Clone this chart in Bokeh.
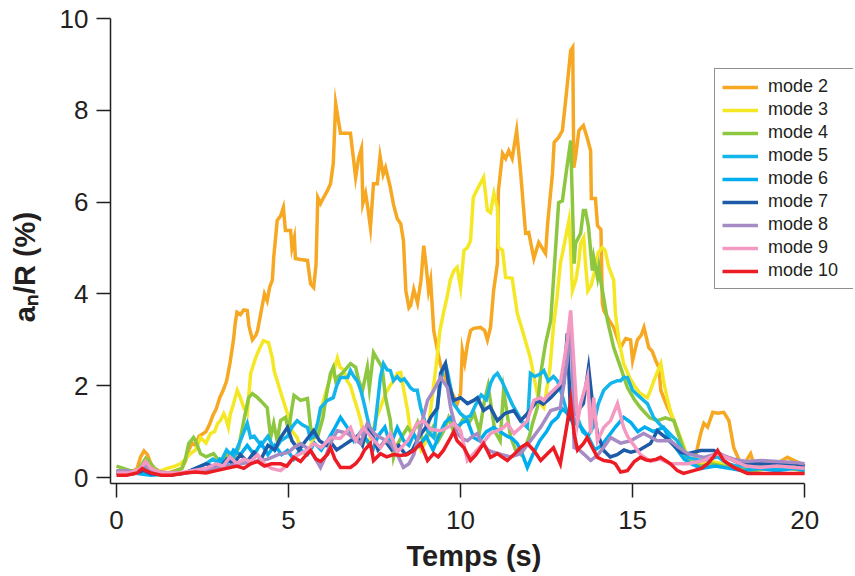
from bokeh.plotting import figure
from bokeh.models import Legend, LegendItem, Range1d, FixedTicker
from bokeh.embed import file_html
from bokeh.resources import INLINE

# ---------------- data ----------------
t_m2 = [0.0, 0.2, 0.4, 0.6, 0.7, 0.8, 0.9, 1.0, 1.1, 1.3, 1.5, 1.7, 1.9, 2.0, 2.1, 2.2, 2.3, 2.4, 2.5, 2.6,
        2.7, 2.8, 2.9, 3.0, 3.1, 3.2, 3.3, 3.4, 3.45, 3.5, 3.6, 3.7, 3.8, 3.85, 3.95, 4.05, 4.1, 4.2, 4.3, 4.38,
        4.45, 4.53, 4.57, 4.67, 4.77, 4.85, 4.91, 5.06, 5.1, 5.17, 5.2, 5.35, 5.55, 5.64, 5.73, 5.8, 5.85, 5.93, 6.02, 6.13,
        6.22, 6.3, 6.37, 6.45, 6.51, 6.8, 6.95, 7.04, 7.12, 7.16, 7.24, 7.3, 7.38, 7.47, 7.58, 7.66, 7.75, 7.82, 7.95, 8.05,
        8.16, 8.26, 8.34, 8.41, 8.5, 8.55, 8.64, 8.75, 8.85, 8.93, 9.0, 9.07, 9.13, 9.22, 9.32, 9.42, 9.47, 9.6, 9.75, 9.9,
        10.0, 10.05, 10.12, 10.2, 10.29, 10.38, 10.58, 10.7, 10.78, 10.87, 10.96, 11.07, 11.1, 11.22, 11.31, 11.4, 11.5, 11.55, 11.63, 11.74,
        11.89, 11.98, 12.13, 12.27, 12.47, 12.53, 12.67, 12.72, 12.85, 12.96, 13.08, 13.2, 13.26, 13.29, 13.34, 13.44, 13.57, 13.68, 13.78, 13.8,
        13.92, 13.98, 14.08, 14.12, 14.16, 14.3, 14.45, 14.55, 14.65, 14.8, 14.94, 15.0, 15.14, 15.25, 15.33, 15.47, 15.57, 15.67, 15.76, 15.82,
        15.87, 16.0, 16.1, 16.2, 16.3, 16.4, 16.5, 16.6, 16.7, 16.8, 16.9, 16.98, 17.07, 17.18, 17.33, 17.47, 17.65, 17.8, 17.94, 18.1,
        18.25, 18.43, 18.52, 18.7, 18.9, 19.1, 19.3, 19.5, 19.7, 19.9, 20.0]
v_m2 = [0.15, 0.12, 0.1, 0.2, 0.45, 0.58, 0.5, 0.3, 0.2, 0.12, 0.1, 0.15, 0.2, 0.35, 0.6, 0.75, 0.7, 0.9, 0.95, 1.0,
        1.15, 1.35, 1.5, 1.74, 1.9, 2.1, 2.5, 3.0, 3.35, 3.6, 3.55, 3.65, 3.64, 3.3, 3.0, 3.1, 3.2, 3.6, 4.0, 3.85,
        4.14, 4.3, 4.8, 5.6, 5.7, 5.88, 5.38, 5.38, 5.0, 5.23, 4.77, 4.75, 4.73, 4.22, 4.14, 4.65, 6.1, 5.97, 6.1, 6.25,
        6.4, 6.84, 8.15, 7.78, 7.5, 7.5, 6.54, 6.97, 7.17, 5.97, 6.19, 5.9, 5.45, 6.4, 6.4, 7.0, 6.6, 6.75, 6.35, 5.95,
        5.64, 5.53, 5.16, 4.07, 3.7, 3.75, 4.1, 3.8, 4.3, 5.05, 4.6, 4.07, 4.3, 3.2, 2.8, 2.45, 2.33, 2.1, 1.85, 1.6,
        1.83, 2.77, 2.5, 2.9, 3.2, 3.25, 3.27, 3.2, 3.0, 3.27, 4.07, 4.66, 6.25, 7.06, 6.95, 7.12, 6.95, 7.19, 7.56, 6.69,
        5.32, 5.34, 4.77, 5.12, 4.88, 5.53, 6.62, 7.3, 7.41, 7.56, 8.4, 9.3, 9.37, 6.75, 6.97, 7.56, 7.67, 7.4, 7.12, 6.08,
        6.08, 5.49, 5.4, 3.8, 3.64, 3.45, 3.27, 3.05, 2.83, 3.03, 3.0, 2.55, 3.0, 3.1, 3.27, 2.83, 2.75, 2.55, 2.4, 1.9,
        1.8, 1.55, 1.4, 1.24, 1.0, 0.8, 0.6, 0.37, 0.4, 0.37, 0.7, 0.96, 1.18, 1.1, 1.42, 1.4, 1.42, 1.24, 0.65, 0.37,
        0.3, 0.52, 0.3, 0.3, 0.35, 0.3, 0.35, 0.44, 0.37, 0.3, 0.25]

t_m3 = [0.0, 0.3, 0.6, 0.8, 1.0, 1.3, 1.47, 1.7, 1.86, 2.0, 2.15, 2.3, 2.44, 2.6, 2.73, 2.85, 2.94, 3.02, 3.12, 3.17,
        3.25, 3.31, 3.4, 3.51, 3.6, 3.7, 3.8, 3.9, 4.04, 4.15, 4.27, 4.42, 4.48, 4.53, 4.58, 4.67, 4.82, 4.97, 5.1, 5.25,
        5.35, 5.5, 5.65, 5.8, 5.95, 6.1, 6.22, 6.3, 6.42, 6.5, 6.6, 6.7, 6.8, 6.9, 7.0, 7.1, 7.18, 7.3, 7.45, 7.55,
        7.67, 7.8, 7.95, 8.05, 8.16, 8.26, 8.35, 8.46, 8.55, 8.7, 8.85, 9.0, 9.1, 9.2, 9.3, 9.4, 9.5, 9.6, 9.7, 9.8,
        9.9, 10.0, 10.1, 10.2, 10.29, 10.37, 10.5, 10.67, 10.78, 10.87, 10.97, 11.07, 11.1, 11.22, 11.31, 11.5, 11.65, 11.8, 11.94, 12.03,
        12.13, 12.23, 12.33, 12.42, 12.5, 12.6, 12.7, 12.8, 12.9, 13.02, 13.15, 13.2, 13.25, 13.35, 13.43, 13.49, 13.58, 13.63, 13.7, 13.8,
        13.9, 14.0, 14.12, 14.2, 14.3, 14.45, 14.5, 14.6, 14.74, 14.9, 15.05, 15.2, 15.3, 15.43, 15.52, 15.62, 15.72, 15.82, 15.9, 16.0,
        16.1, 16.2, 16.35, 16.5, 16.6, 16.8, 17.0, 17.3, 17.6, 18.0, 18.5, 19.0, 19.5, 20.0]
v_m3 = [0.15, 0.12, 0.1, 0.25, 0.15, 0.15, 0.2, 0.25, 0.3, 0.4, 0.52, 0.6, 0.87, 0.75, 0.96, 1.0, 1.18, 1.24, 1.39, 1.31,
        1.1, 1.39, 1.6, 1.9, 1.74, 1.52, 1.39, 2.27, 2.6, 2.8, 2.98, 2.94, 2.75, 2.6, 2.33, 2.11, 1.74, 1.39, 1.02, 0.87,
        0.59, 0.5, 0.7, 1.0, 1.5, 1.9, 2.18, 2.27, 2.6, 2.4, 2.35, 2.11, 2.0, 1.74, 1.5, 1.24, 0.87, 0.75, 1.0, 1.3,
        1.52, 1.8, 2.0, 2.1, 2.27, 2.29, 1.9, 1.46, 0.96, 0.9, 0.6, 0.8, 1.3, 1.9, 2.5, 3.2, 3.57, 3.9, 4.3, 4.5,
        4.58, 4.14, 4.95, 5.01, 5.16, 6.1, 6.3, 6.54, 5.82, 5.77, 6.19, 5.88, 5.01, 4.95, 4.36, 4.34, 3.57, 3.2, 2.83, 2.6,
        2.2, 1.83, 1.6, 1.52, 1.9, 2.4, 3.3, 3.9, 4.66, 5.1, 5.6, 5.0, 4.07, 4.3, 4.66, 5.1, 5.23, 4.66, 4.07, 4.2,
        4.5, 4.9, 5.01, 4.95, 4.6, 4.3, 3.57, 3.0, 2.48, 2.2, 2.0, 1.85, 1.8, 1.74, 1.9, 2.11, 2.3, 2.48, 2.1, 1.74,
        1.45, 1.24, 0.95, 0.65, 0.45, 0.35, 0.3, 0.35, 0.3, 0.25, 0.2, 0.25, 0.2, 0.2]

t_m4 = [0.0, 0.2, 0.4, 0.6, 0.75, 0.85, 0.95, 1.1, 1.3, 1.6, 1.9, 2.0, 2.1, 2.24, 2.3, 2.44, 2.6, 2.82, 3.0, 3.2,
        3.4, 3.55, 3.7, 3.84, 3.95, 4.1, 4.27, 4.38, 4.48, 4.57, 4.67, 4.77, 4.91, 5.0, 5.1, 5.16, 5.35, 5.55, 5.64, 5.73,
        5.85, 6.0, 6.1, 6.22, 6.3, 6.37, 6.45, 6.56, 6.8, 6.95, 7.04, 7.15, 7.29, 7.35, 7.47, 7.6, 7.72, 7.82, 7.96, 8.05,
        8.15, 8.3, 8.46, 8.6, 8.75, 8.9, 9.05, 9.2, 9.35, 9.5, 9.65, 9.8, 9.95, 10.1, 10.25, 10.4, 10.55, 10.7, 10.8, 10.9,
        11.0, 11.15, 11.25, 11.35, 11.45, 11.6, 11.75, 11.9, 12.0, 12.1, 12.23, 12.33, 12.47, 12.62, 12.7, 12.78, 12.85, 12.96, 13.08, 13.2,
        13.3, 13.34, 13.49, 13.57, 13.63, 13.72, 13.83, 13.87, 13.98, 14.02, 14.07, 14.27, 14.45, 14.65, 14.85, 15.05, 15.23, 15.5, 15.72, 15.95,
        16.2, 16.4, 16.6, 16.8, 17.0, 17.3, 17.6, 18.0, 18.5, 19.0, 19.5, 20.0]
v_m4 = [0.25, 0.2, 0.15, 0.15, 0.3, 0.42, 0.35, 0.2, 0.1, 0.1, 0.2, 0.4, 0.74, 0.87, 0.8, 0.52, 0.45, 0.52, 0.35, 0.5,
        0.4, 0.65, 1.24, 1.74, 1.83, 1.74, 1.61, 1.52, 0.87, 1.18, 0.8, 1.24, 1.31, 1.02, 1.52, 1.79, 1.68, 1.72, 1.1, 0.87,
        0.9, 1.3, 1.8, 2.27, 2.4, 2.11, 2.2, 2.27, 2.48, 2.4, 2.11, 1.9, 2.4, 1.95, 2.72, 2.55, 2.4, 1.74, 1.24, 0.44,
        0.7, 0.9, 1.09, 0.95, 1.2, 0.8, 0.9, 1.1, 0.8, 1.0, 1.3, 1.0, 1.1, 1.31, 1.2, 1.39, 1.0, 1.7, 2.0, 1.5,
        1.0, 0.8, 1.9, 1.4, 0.9, 0.6, 0.5, 0.7, 0.9, 1.2, 1.52, 2.27, 2.92, 3.42, 4.3, 5.2, 5.99, 6.03, 6.7, 7.34,
        4.66, 5.1, 5.32, 5.82, 5.82, 5.45, 4.51, 4.79, 4.36, 4.58, 4.3, 3.42, 2.83, 2.4, 1.96, 1.7, 1.52, 1.3, 1.24, 1.3,
        1.24, 0.8, 0.37, 0.3, 0.25, 0.3, 0.25, 0.2, 0.15, 0.2, 0.2, 0.15]

t_m5 = [0.0, 0.5, 0.8, 1.0, 1.5, 2.0, 2.3, 2.6, 2.8, 3.0, 3.2, 3.4, 3.6, 3.8, 3.9, 4.0, 4.2, 4.4, 4.6, 4.77,
        4.97, 5.1, 5.25, 5.4, 5.55, 5.64, 5.73, 5.85, 5.93, 6.13, 6.3, 6.4, 6.51, 6.72, 6.8, 6.9, 7.0, 7.1, 7.2, 7.29,
        7.38, 7.5, 7.6, 7.67, 7.76, 7.86, 7.96, 8.05, 8.16, 8.26, 8.36, 8.46, 8.55, 8.64, 8.74, 8.84, 8.93, 9.05, 9.22, 9.33,
        9.42, 9.5, 9.56, 9.62, 9.71, 9.8, 9.9, 10.0, 10.15, 10.29, 10.45, 10.6, 10.75, 10.87, 10.97, 11.07, 11.2, 11.36, 11.5, 11.65,
        11.8, 11.94, 12.03, 12.15, 12.3, 12.42, 12.55, 12.7, 12.82, 12.95, 13.1, 13.25, 13.4, 13.55, 13.7, 13.85, 14.0, 14.16, 14.36, 14.56,
        14.65, 14.74, 14.85, 15.0, 15.14, 15.23, 15.32, 15.43, 15.61, 15.8, 16.0, 16.15, 16.3, 16.45, 16.6, 16.8, 16.98, 17.2, 17.47, 17.76,
        18.0, 18.4, 18.72, 19.2, 19.7, 20.0]
v_m5 = [0.15, 0.1, 0.2, 0.1, 0.05, 0.1, 0.2, 0.3, 0.4, 0.3, 0.6, 0.45, 0.8, 1.18, 0.87, 0.9, 0.7, 0.9, 0.6, 0.8,
        0.9, 1.1, 1.24, 1.15, 1.09, 0.85, 0.9, 1.2, 1.52, 1.68, 1.74, 2.0, 2.18, 2.18, 2.33, 2.2, 2.1, 1.9, 1.6, 1.3,
        1.02, 1.05, 1.7, 2.18, 2.48, 2.35, 2.33, 2.11, 2.2, 2.11, 2.15, 2.05, 1.95, 1.9, 1.9, 1.52, 1.3, 1.0, 0.87, 1.6,
        2.1, 2.4, 2.48, 2.3, 1.96, 1.6, 1.5, 1.39, 1.3, 1.35, 1.6, 1.8, 1.7, 2.05, 2.2, 2.27, 2.1, 1.83, 1.6, 1.4,
        1.2, 1.09, 2.27, 2.2, 2.25, 2.33, 2.1, 2.2, 2.1, 1.8, 1.4, 1.2, 1.3, 1.0, 0.9, 1.1, 1.6, 1.9, 2.05, 2.11,
        2.11, 2.18, 2.18, 1.9, 1.8, 1.74, 1.68, 1.61, 1.31, 1.15, 1.02, 0.9, 0.8, 0.6, 0.44, 0.4, 0.37, 0.4, 0.45, 0.3,
        0.25, 0.25, 0.22, 0.2, 0.22, 0.2]

t_m6 = [0.0, 0.5, 1.0, 1.5, 2.0, 2.4, 2.8, 3.0, 3.2, 3.4, 3.6, 3.8, 4.0, 4.2, 4.4, 4.6, 4.8, 4.97, 5.15, 5.35,
        5.55, 5.75, 5.95, 6.13, 6.3, 6.51, 6.7, 6.9, 7.1, 7.29, 7.45, 7.6, 7.8, 7.96, 8.16, 8.35, 8.5, 8.64, 8.8, 9.0,
        9.2, 9.42, 9.55, 9.71, 9.9, 10.05, 10.2, 10.38, 10.55, 10.75, 10.96, 11.15, 11.35, 11.5, 11.65, 11.8, 11.94, 12.1, 12.3, 12.5,
        12.65, 12.82, 12.95, 13.1, 13.3, 13.5, 13.7, 13.9, 14.1, 14.3, 14.5, 14.74, 14.95, 15.15, 15.35, 15.6, 15.9, 16.1, 16.3, 16.5,
        16.7, 17.0, 17.4, 17.8, 18.2, 18.7, 19.2, 19.7, 20.0]
v_m6 = [0.1, 0.1, 0.05, 0.08, 0.1, 0.15, 0.2, 0.4, 0.3, 0.6, 0.5, 0.7, 0.5, 0.75, 0.5, 0.7, 0.5, 0.59, 0.4, 0.6,
        0.5, 0.75, 0.6, 0.8, 1.02, 1.31, 1.1, 0.8, 1.0, 0.8, 0.6, 0.9, 1.1, 0.7, 1.09, 0.8, 0.7, 0.95, 0.7, 0.9,
        0.6, 1.0, 1.2, 1.31, 1.1, 1.2, 1.24, 0.87, 0.8, 1.0, 1.09, 1.0, 0.9, 0.85, 0.74, 0.5, 0.22, 0.5, 0.8, 1.0,
        1.2, 1.31, 1.5, 1.4, 1.2, 1.1, 0.9, 0.6, 0.7, 0.9, 1.1, 1.31, 1.2, 1.0, 1.1, 1.0, 1.09, 0.8, 0.6, 0.4,
        0.3, 0.2, 0.25, 0.2, 0.15, 0.2, 0.15, 0.2, 0.15]

t_m7 = [0.0, 0.5, 0.8, 1.0, 1.5, 2.0, 2.3, 2.6, 2.8, 3.0, 3.2, 3.4, 3.6, 3.8, 4.0, 4.2, 4.4, 4.6, 4.77, 4.97,
        5.1, 5.3, 5.5, 5.73, 5.9, 6.1, 6.25, 6.4, 6.6, 6.8, 7.0, 7.15, 7.29, 7.45, 7.6, 7.8, 8.0, 8.2, 8.4, 8.6,
        8.8, 9.0, 9.13, 9.33, 9.42, 9.56, 9.65, 9.8, 10.0, 10.2, 10.38, 10.49, 10.67, 10.85, 11.07, 11.3, 11.55, 11.74, 11.95, 12.23,
        12.4, 12.62, 12.82, 13.0, 13.1, 13.2, 13.35, 13.57, 13.72, 13.85, 13.98, 14.16, 14.35, 14.55, 14.75, 14.95, 15.2, 15.52, 15.72, 15.81,
        16.0, 16.2, 16.4, 16.6, 16.98, 17.36, 17.7, 18.14, 18.72, 19.2, 19.7, 20.0]
v_m7 = [0.1, 0.08, 0.15, 0.08, 0.05, 0.1, 0.2, 0.3, 0.25, 0.2, 0.4, 0.3, 0.5, 0.35, 0.55, 0.4, 0.7, 0.6, 0.87, 1.09,
        0.8, 0.6, 0.8, 1.02, 0.8, 0.7, 0.75, 0.6, 0.7, 0.8, 0.9, 0.7, 1.09, 0.9, 0.6, 0.8, 0.6, 0.7, 0.5, 0.6,
        0.9, 1.1, 1.31, 1.52, 2.27, 2.48, 2.05, 1.68, 1.74, 1.61, 1.68, 1.74, 1.46, 1.55, 1.24, 1.4, 1.46, 1.24, 1.4, 1.68,
        1.6, 1.74, 1.9, 2.05, 3.14, 1.3, 1.4, 1.61, 2.4, 1.5, 0.96, 0.59, 0.45, 0.5, 0.6, 0.55, 0.6, 0.74, 1.02, 0.96,
        0.85, 0.7, 0.55, 0.52, 0.59, 0.59, 0.45, 0.3, 0.3, 0.28, 0.3, 0.25]

t_m8 = [0.0, 0.3, 0.6, 0.8, 1.0, 1.5, 2.0, 2.4, 2.8, 3.2, 3.6, 4.0, 4.4, 4.7, 5.0, 5.15, 5.35, 5.64, 5.93, 6.1,
        6.25, 6.42, 6.72, 6.9, 7.1, 7.29, 7.5, 7.67, 7.96, 8.16, 8.34, 8.5, 8.64, 8.84, 9.04, 9.22, 9.42, 9.62, 9.71, 9.9,
        10.05, 10.2, 10.35, 10.49, 10.58, 10.8, 10.96, 11.2, 11.45, 11.74, 12.03, 12.33, 12.62, 12.9, 13.1, 13.2, 13.25, 13.3, 13.45, 13.6,
        13.78, 14.0, 14.2, 14.36, 14.65, 14.94, 15.32, 15.72, 16.1, 16.35, 16.6, 17.07, 17.47, 17.94, 18.3, 18.72, 19.2, 19.7, 20.0]
v_m8 = [0.15, 0.15, 0.1, 0.3, 0.15, 0.1, 0.1, 0.15, 0.2, 0.25, 0.3, 0.35, 0.4, 0.5, 0.55, 0.65, 0.74, 0.59, 0.22, 0.5,
        0.8, 1.02, 0.96, 0.85, 0.74, 1.18, 0.95, 0.87, 0.75, 0.5, 0.22, 0.3, 0.5, 1.09, 1.68, 1.9, 2.18, 1.96, 1.52, 0.96,
        0.85, 0.8, 0.9, 0.96, 0.8, 0.6, 0.55, 0.5, 0.45, 0.52, 0.8, 1.1, 1.46, 1.52, 2.55, 3.27, 2.4, 0.65, 0.6, 0.5,
        0.37, 0.5, 0.7, 0.87, 0.75, 0.8, 0.96, 0.8, 0.8, 0.65, 0.52, 0.44, 0.52, 0.4, 0.35, 0.37, 0.35, 0.33, 0.3]

t_m9 = [0.0, 0.4, 0.7, 0.85, 1.0, 1.3, 1.8, 2.2, 2.6, 2.9, 3.1, 3.3, 3.5, 3.7, 3.9, 4.1, 4.3, 4.5, 4.77, 5.0,
        5.15, 5.35, 5.55, 5.73, 5.95, 6.22, 6.5, 6.8, 6.95, 7.18, 7.38, 7.67, 7.96, 8.16, 8.46, 8.74, 8.93, 9.13, 9.42, 9.62,
        9.8, 10.0, 10.2, 10.38, 10.6, 10.87, 11.07, 11.25, 11.36, 11.55, 11.74, 11.94, 12.13, 12.33, 12.42, 12.55, 12.7, 12.9, 13.1, 13.2,
        13.3, 13.4, 13.49, 13.6, 13.69, 13.78, 13.87, 13.98, 14.16, 14.36, 14.56, 14.74, 14.85, 15.0, 15.23, 15.52, 15.8, 16.1, 16.6, 17.07,
        17.47, 17.94, 18.3, 18.72, 19.2, 19.7, 20.0]
v_m9 = [0.1, 0.1, 0.2, 0.35, 0.2, 0.1, 0.1, 0.15, 0.2, 0.3, 0.25, 0.45, 0.3, 0.4, 0.35, 0.5, 0.3, 0.2, 0.15, 0.3,
        0.45, 0.52, 0.6, 0.74, 0.65, 0.87, 0.85, 1.09, 0.8, 1.09, 0.9, 0.65, 0.96, 0.55, 0.8, 1.18, 1.24, 1.05, 1.02, 1.09,
        1.18, 1.02, 0.37, 0.52, 0.7, 0.96, 1.02, 1.09, 1.18, 0.96, 1.09, 1.24, 1.68, 1.74, 1.68, 1.8, 1.9, 2.05, 2.98, 3.64,
        2.4, 1.2, 1.61, 1.9, 2.18, 0.96, 1.74, 0.8, 1.09, 1.24, 1.61, 1.09, 0.9, 0.74, 0.5, 0.35, 0.4, 0.3, 0.3, 0.37,
        0.52, 0.37, 0.25, 0.22, 0.25, 0.22, 0.2]

t_m10 = [0.0, 0.3, 0.6, 0.75, 0.85, 1.0, 1.3, 1.6, 2.0, 2.3, 2.6, 2.9, 3.2, 3.5, 3.7, 3.9, 4.1, 4.3, 4.5, 4.77,
         4.95, 5.15, 5.35, 5.55, 5.64, 5.8, 5.93, 6.13, 6.22, 6.35, 6.51, 6.8, 6.95, 7.1, 7.2, 7.38, 7.47, 7.67, 7.85, 8.05,
         8.26, 8.45, 8.64, 8.84, 9.04, 9.22, 9.35, 9.5, 9.71, 9.8, 9.9, 10.1, 10.29, 10.45, 10.67, 10.8, 10.87, 11.07, 11.2, 11.36,
         11.55, 11.74, 11.94, 12.13, 12.33, 12.5, 12.7, 12.9, 13.1, 13.2, 13.3, 13.4, 13.57, 13.68, 13.83, 13.98, 14.16, 14.36, 14.5, 14.65,
         14.85, 15.05, 15.23, 15.4, 15.52, 15.7, 15.81, 16.1, 16.3, 16.48, 16.77, 17.0, 17.18, 17.35, 17.47, 17.65, 17.94, 18.34, 18.92, 19.5,
         20.0]
v_m10 = [0.05, 0.05, 0.1, 0.2, 0.15, 0.1, 0.05, 0.05, 0.1, 0.12, 0.1, 0.15, 0.2, 0.25, 0.2, 0.3, 0.35, 0.25, 0.3, 0.3,
         0.25, 0.44, 0.35, 0.52, 0.59, 0.4, 0.35, 0.5, 0.65, 0.4, 0.22, 0.22, 0.3, 0.44, 0.59, 0.74, 0.37, 0.52, 0.45, 0.5,
         0.48, 0.5, 0.59, 0.74, 0.37, 0.52, 0.45, 0.59, 0.87, 1.0, 0.8, 0.65, 0.37, 0.5, 0.74, 0.55, 0.44, 0.52, 0.45, 0.37,
         0.5, 0.65, 0.74, 0.59, 0.37, 0.5, 0.65, 0.3, 1.18, 1.68, 0.96, 0.6, 0.74, 0.87, 0.65, 0.44, 0.37, 0.35, 0.3, 0.12,
         0.15, 0.35, 0.44, 0.38, 0.37, 0.4, 0.44, 0.3, 0.15, 0.09, 0.15, 0.2, 0.3, 0.45, 0.59, 0.37, 0.22, 0.09, 0.09, 0.09,
         0.09]

mode_names = ["mode 2", "mode 3", "mode 4", "mode 5", "mode 6", "mode 7", "mode 8", "mode 9", "mode 10"]
mode_colors = ["#F7A823", "#F4E824", "#8DC63F", "#13B5EA", "#00AEEF", "#1D5BA8", "#A68BC4", "#F49AC2", "#ED1C24"]
mode_t = [t_m2, t_m3, t_m4, t_m5, t_m6, t_m7, t_m8, t_m9, t_m10]
mode_v = [v_m2, v_m3, v_m4, v_m5, v_m6, v_m7, v_m8, v_m9, v_m10]

x_ticks = [0, 5, 10, 15, 20]
y_ticks = [0, 2, 4, 6, 8, 10]
x_axis_span = (-0.1744, 20.0)
x_title = "Temps (s)"
y_title = "aₙ/R (%)"

# ---------------- figure ----------------
INK = "#231F20"
FONT = "Liberation Sans"
NBSP = "\u00a0"

p = figure(width=855, height=576, output_backend="svg", toolbar_location=None,
           x_range=Range1d(-0.1744, 21.42), y_range=Range1d(-0.13, 10.0),
           min_border_left=110, min_border_right=2, min_border_top=18, min_border_bottom=93)
p.outline_line_color = None
p.grid.visible = False
p.background_fill_color = "white"
p.border_fill_color = "white"

renderers = []
for name, col, tt, vv in zip(mode_names, mode_colors, mode_t, mode_v):
    r = p.line(tt, vv, line_color=col, line_width=3.5, line_join="miter")
    renderers.append((name, r))

for ax in (p.xaxis[0], p.yaxis[0]):
    ax.axis_line_color = INK
    ax.axis_line_width = 1.5
    ax.major_tick_line_color = INK
    ax.major_tick_line_width = 1.5
    ax.major_tick_out = 14
    ax.major_tick_in = 0
    ax.minor_tick_line_color = None
    ax.major_label_text_font = FONT
    ax.major_label_text_font_size = "26px"
    ax.major_label_text_color = INK
    ax.axis_label_text_font = FONT
    ax.axis_label_text_font_size = "29px"
    ax.axis_label_text_font_style = "bold"
    ax.axis_label_text_color = INK

p.xaxis.ticker = FixedTicker(ticks=x_ticks)
p.yaxis.ticker = FixedTicker(ticks=y_ticks)
p.xaxis.bounds = x_axis_span
# trailing no-break spaces nudge the centred titles to where the reference has them
p.xaxis.axis_label = x_title + NBSP * 2
p.yaxis.axis_label = y_title + NBSP * 4
p.xaxis.major_label_standoff = 13
p.xaxis.axis_label_standoff = 8
p.yaxis.major_label_standoff = 8
p.yaxis.axis_label_standoff = 16

legend = Legend(items=[LegendItem(label=n, renderers=[r]) for n, r in renderers],
                location=(604, 194))
legend.border_line_color = INK
legend.border_line_width = 1.5
legend.background_fill_color = "white"
legend.background_fill_alpha = 1.0
legend.padding = 7
legend.spacing = 2
legend.margin = 0
legend.label_height = 20
legend.glyph_height = 20
legend.glyph_width = 36
legend.label_standoff = 10
legend.label_width = 78
legend.label_text_font = FONT
legend.label_text_font_size = "18px"
legend.label_text_color = INK
p.add_layout(legend)

open("out.html", "w").write(file_html(p, INLINE))
